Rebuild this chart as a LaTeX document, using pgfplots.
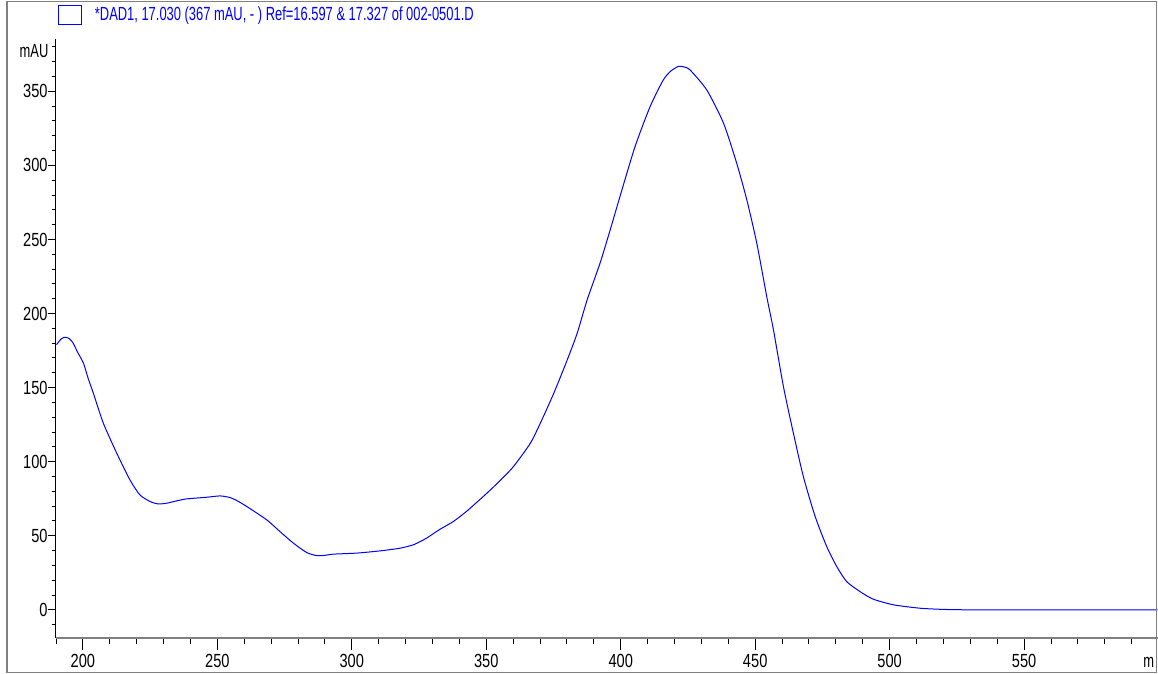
\documentclass[border=0pt]{standalone}
\usepackage{fontspec}
\setmainfont{Liberation Sans}
\newfontfamily\tickfont{Liberation Sans}[FakeStretch=0.77]
\newfontfamily\txtfont{Liberation Sans}[FakeStretch=0.68]
\usepackage{pgfplots}
\pgfplotsset{compat=1.18}
\definecolor{framegray}{RGB}{128,128,128}
\newcommand{\tfont}{\tickfont\fontsize{9.5}{11}\selectfont}
\newcommand{\xfont}{\txtfont\fontsize{9.5}{11}\selectfont}
\pgfplotstableread{
nm mAU
190.2 179
192 183
193.5 184
195 183
196.4 180
198 174
200.2 166.5
202 156
203.9 146.2
207.6 126
212.6 105.7
217.5 87.7
221.2 77.6
225 73.1
228 71.5
231.2 72
235 73.6
238.6 74.9
246 76
251 76.9
254.7 75.8
257.5 73.5
260.9 69.8
268.4 60.7
273.3 52.8
278.3 45
283.2 38.7
287 36.6
290 36.8
293.1 37.6
301.8 38.3
310.5 39.8
317.9 41.6
322.9 43.9
325.4 46.1
327.8 48.4
332.8 54.4
337.8 59.7
343 67
350.2 78.7
355 87
360.1 96.7
366.4 112.5
370.1 126
375.1 146.2
380.1 168.7
383.8 186.7
387.5 209.2
392.3 234
396 256
399.7 278.9
405.3 312.6
410.9 339.6
415.8 357.6
418.5 363.5
421.4 366.8
423.5 366.5
425.8 364.4
432 350.9
438.2 328.6
443.1 301.6
446.9 276.6
450.6 247.4
454.3 211.4
456.8 188.9
460.5 150.7
464.2 119.3
467.9 90
472.3 63
476.6 42.7
480.3 29.3
484 19.1
489 12.3
493.9 7.2
501.4 3.4
511.3 1.1
520 0.3
530 0
545 0
560 0
580 0
599.6 0
}\spectrum
\begin{document}
\begin{tikzpicture}
\useasboundingbox (0,0) rectangle (579pt,337pt);
% x axis with its ticks
\begin{axis}[
  at={(28pt,18pt)}, anchor=south west, scale only axis,
  width=550.75pt, height=299.25pt,
  xmin=190, xmax=599.6, ymin=-19, ymax=385,
  axis x line*=bottom, axis y line=none,
  x axis line style={framegray, line width=1pt, -},
  ytick=\empty,
  xtick={200,250,...,550},
  minor xtick={190,200,...,590},
  tick align=outside,
  major tick length=6pt, minor tick length=3pt,
  x tick style={black, line width=0.5pt},
  xticklabel style={font=\tfont, inner sep=0pt, anchor=north, yshift=-2.1pt},
  /pgf/number format/assume math mode=true,
]
\end{axis}
% y axis and the spectrum
\begin{axis}[
  at={(28pt,18pt)}, anchor=south west, scale only axis,
  width=550.75pt, height=299.25pt,
  xmin=190, xmax=599.6, ymin=-19, ymax=385,
  axis y line*=left, axis x line=none,
  y axis line style={black, line width=0.5pt, -},
  xtick=\empty,
  ytick={0,50,...,350},
  minor ytick={-10,0,...,380},
  tick align=outside,
  major tick length=4pt, minor tick length=2pt,
  y tick style={black, line width=0.5pt},
  yticklabel style={font=\tfont, inner sep=0pt, anchor=east},
  /pgf/number format/assume math mode=true,
  clip=false,
  legend style={at={(0,1)}, anchor=west, xshift=1.15pt, yshift=12.25pt,
    draw=none, fill=none, inner sep=0pt, outer sep=0pt,
    font=\xfont, text=blue, column sep=6.3pt,
    nodes={inner sep=0pt}},
  legend image code/.code={\draw[blue, line width=0.5pt] (0pt,-4.75pt) rectangle (11.5pt,4.75pt);},
]
\addplot[blue, line width=0.5pt, smooth, tension=0.4] table[x=nm, y=mAU] {\spectrum};
\addlegendentry{*DAD1, 17.030 (367 mAU, - ) Ref=16.597 \& 17.327 of 002-0501.D}
\node[anchor=east, inner sep=0pt, font=\xfont, xshift=-3.6pt] at (axis cs:190,377.5) {mAU};
\end{axis}
\node[anchor=base west, inner sep=0pt, font=\xfont] at (571.5pt,3pt) {m};
\draw[framegray, line width=0.75pt] (3.5pt,0.65pt) rectangle (578.35pt,336.15pt);
\end{tikzpicture}
\end{document}
